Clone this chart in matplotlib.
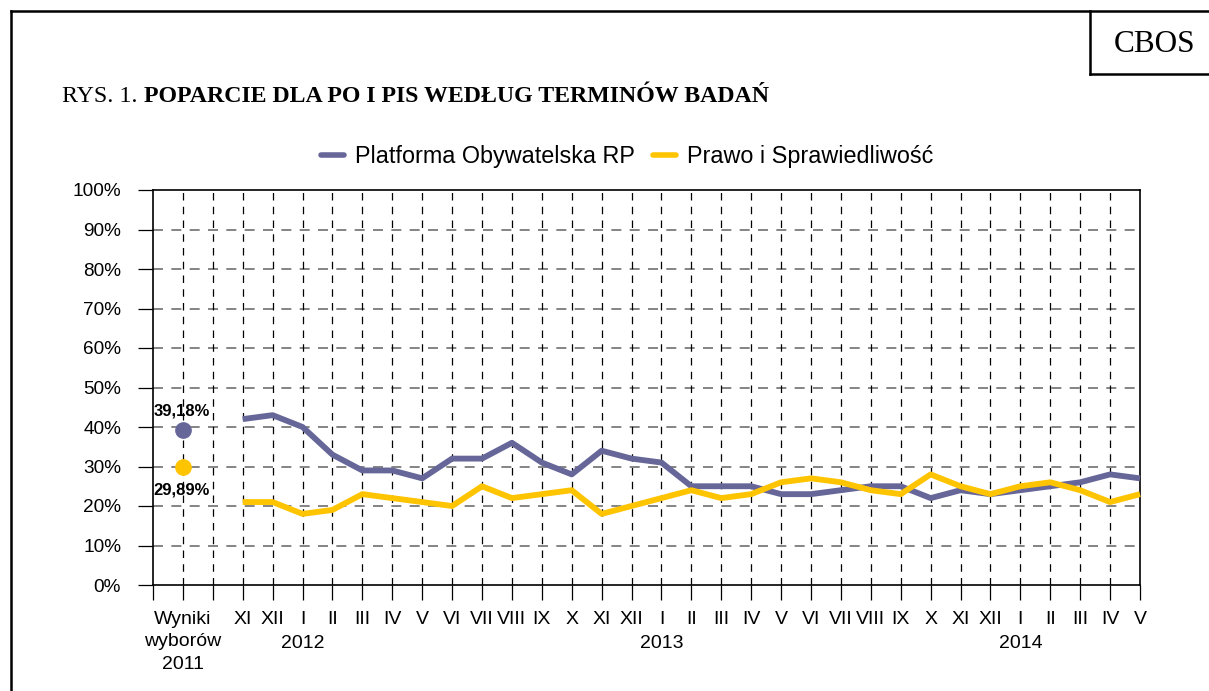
import matplotlib
matplotlib.use("Agg")
import matplotlib.pyplot as plt
from matplotlib.lines import Line2D

# ---------------- data ----------------
months = ["XI", "XII", "I", "II", "III", "IV", "V", "VI", "VII", "VIII", "IX", "X",
          "XI", "XII", "I", "II", "III", "IV", "V", "VI", "VII", "VIII", "IX", "X",
          "XI", "XII", "I", "II", "III", "IV", "V"]
po = [42, 43, 40, 33, 29, 29, 27, 32, 32, 36, 31, 28, 34, 32, 31, 25, 25, 25, 23, 23,
      24, 25, 25, 22, 24, 23, 24, 25, 26, 28, 27]
pis = [21, 21, 18, 19, 23, 22, 21, 20, 25, 22, 23, 24, 18, 20, 22, 24, 22, 23, 26, 27,
       26, 24, 23, 28, 25, 23, 25, 26, 24, 21, 23]
election_label = "Wyniki\nwyborów\n2011"
po_2011 = 39.18
pis_2011 = 29.89
po_2011_text = "39,18%"
pis_2011_text = "29,89%"
years = ["2012", "2013", "2014"]
year_month_index = [2, 14, 26]   # index in months of "I" of each year
series_names = ["Platforma Obywatelska RP", "Prawo i Sprawiedliwość"]
yticks = [0, 10, 20, 30, 40, 50, 60, 70, 80, 90, 100]

PO_COLOR = "#666699"
PIS_COLOR = "#FFC400"
W, H = 1209, 691

plt.rcParams["font.family"] = ["Liberation Sans", "DejaVu Sans"]

fig = plt.figure(figsize=(W / 100, H / 100), dpi=100)
ax = fig.add_axes([153 / W, (H - 585) / H, (1140 - 153) / W, (585 - 190) / H])

n_pre = 3  # offset of first month on the category axis
xm = [n_pre + i for i in range(len(months))]
x_el = 1

ax.set_xlim(0, n_pre + len(months) - 1)
ax.set_ylim(0, 100)

# grid
for y in yticks[1:-1]:
    ax.axhline(y, color="#707070", lw=1.2, dashes=(6, 5), zorder=1)
for x in range(1, n_pre + len(months) - 1):
    ax.axvline(x, color="black", lw=0.9, dashes=(6, 5), zorder=1)

# series
ax.plot(xm, po, color=PO_COLOR, lw=4.2, solid_capstyle="butt", zorder=3, clip_on=False)
ax.plot(xm, pis, color=PIS_COLOR, lw=4.2, solid_capstyle="butt", zorder=3, clip_on=False)
ax.plot([x_el], [po_2011], "o", color=PO_COLOR, ms=11, zorder=4, clip_on=False)
ax.plot([x_el], [pis_2011], "o", color=PIS_COLOR, ms=11, zorder=4, clip_on=False)
ax.annotate(po_2011_text, xy=(x_el, po_2011), xytext=(-1, 19), textcoords="offset pixels",
            ha="center", va="center", fontsize=12, fontweight="bold")
ax.annotate(pis_2011_text, xy=(x_el, pis_2011), xytext=(-1, -23), textcoords="offset pixels",
            ha="center", va="center", fontsize=12, fontweight="bold")

# ticks
xt = list(range(0, n_pre + len(months)))
xl = ["", election_label, ""] + months
ax.set_xticks(xt)
ax.set_xticklabels(xl, fontsize=14, linespacing=1.42)
ax.set_yticks(yticks)
ax.set_yticklabels([f"{v}%" for v in yticks], fontsize=13.7)
ax.tick_params(axis="x", direction="out", length=10.5, width=0.9, pad=8, color="black")
ax.tick_params(axis="y", direction="out", length=11, width=0.9, pad=12, color="black")
for s in ax.spines.values():
    s.set_linewidth(1.2)
    s.set_color("black")

for yr, idx in zip(years, year_month_index):
    ax.annotate(yr, xy=(xm[idx], 0), xycoords=("data", "axes fraction"),
                xytext=(0, -58), textcoords="offset pixels",
                ha="center", va="center", fontsize=14)

# legend
handles = [Line2D([], [], color=PO_COLOR, lw=4, solid_capstyle="round"),
           Line2D([], [], color=PIS_COLOR, lw=4, solid_capstyle="round")]
fig.legend(handles, series_names, loc="center", bbox_to_anchor=(627 / W, 1 - 157 / H),
           ncol=2, frameon=False, fontsize=16.8, handlelength=1.0, handletextpad=0.45,
           columnspacing=0.8)

# title
t1 = fig.text(62 / W, 1 - 96 / H, "RYS. 1. ", family="Liberation Serif", fontsize=17.2,
              va="center", ha="left")
ax.annotate("POPARCIE DLA PO I PIS WEDŁUG TERMINÓW BADAŃ", xy=(1, 0.5), xycoords=t1,
            ha="left", va="center", family="Liberation Serif", fontsize=17.2,
            fontweight="bold", annotation_clip=False)

# CBOS box and frame
fig.text(1155 / W, 1 - 44 / H, "CBOS", family="Liberation Serif", fontsize=22.5,
         ha="center", va="center")

def fl(xs, ys, lw=1.8):
    fig.add_artist(Line2D([x / W for x in xs], [1 - y / H for y in ys],
                          color="black", lw=lw, transform=fig.transFigure,
                          solid_capstyle="projecting"))

fl([11, 11], [11, 691])
fl([11, 1209], [11, 11])
fl([1090, 1090], [11, 74])
fl([1090, 1209], [74, 74])

fig.savefig("out.png", dpi=100)
